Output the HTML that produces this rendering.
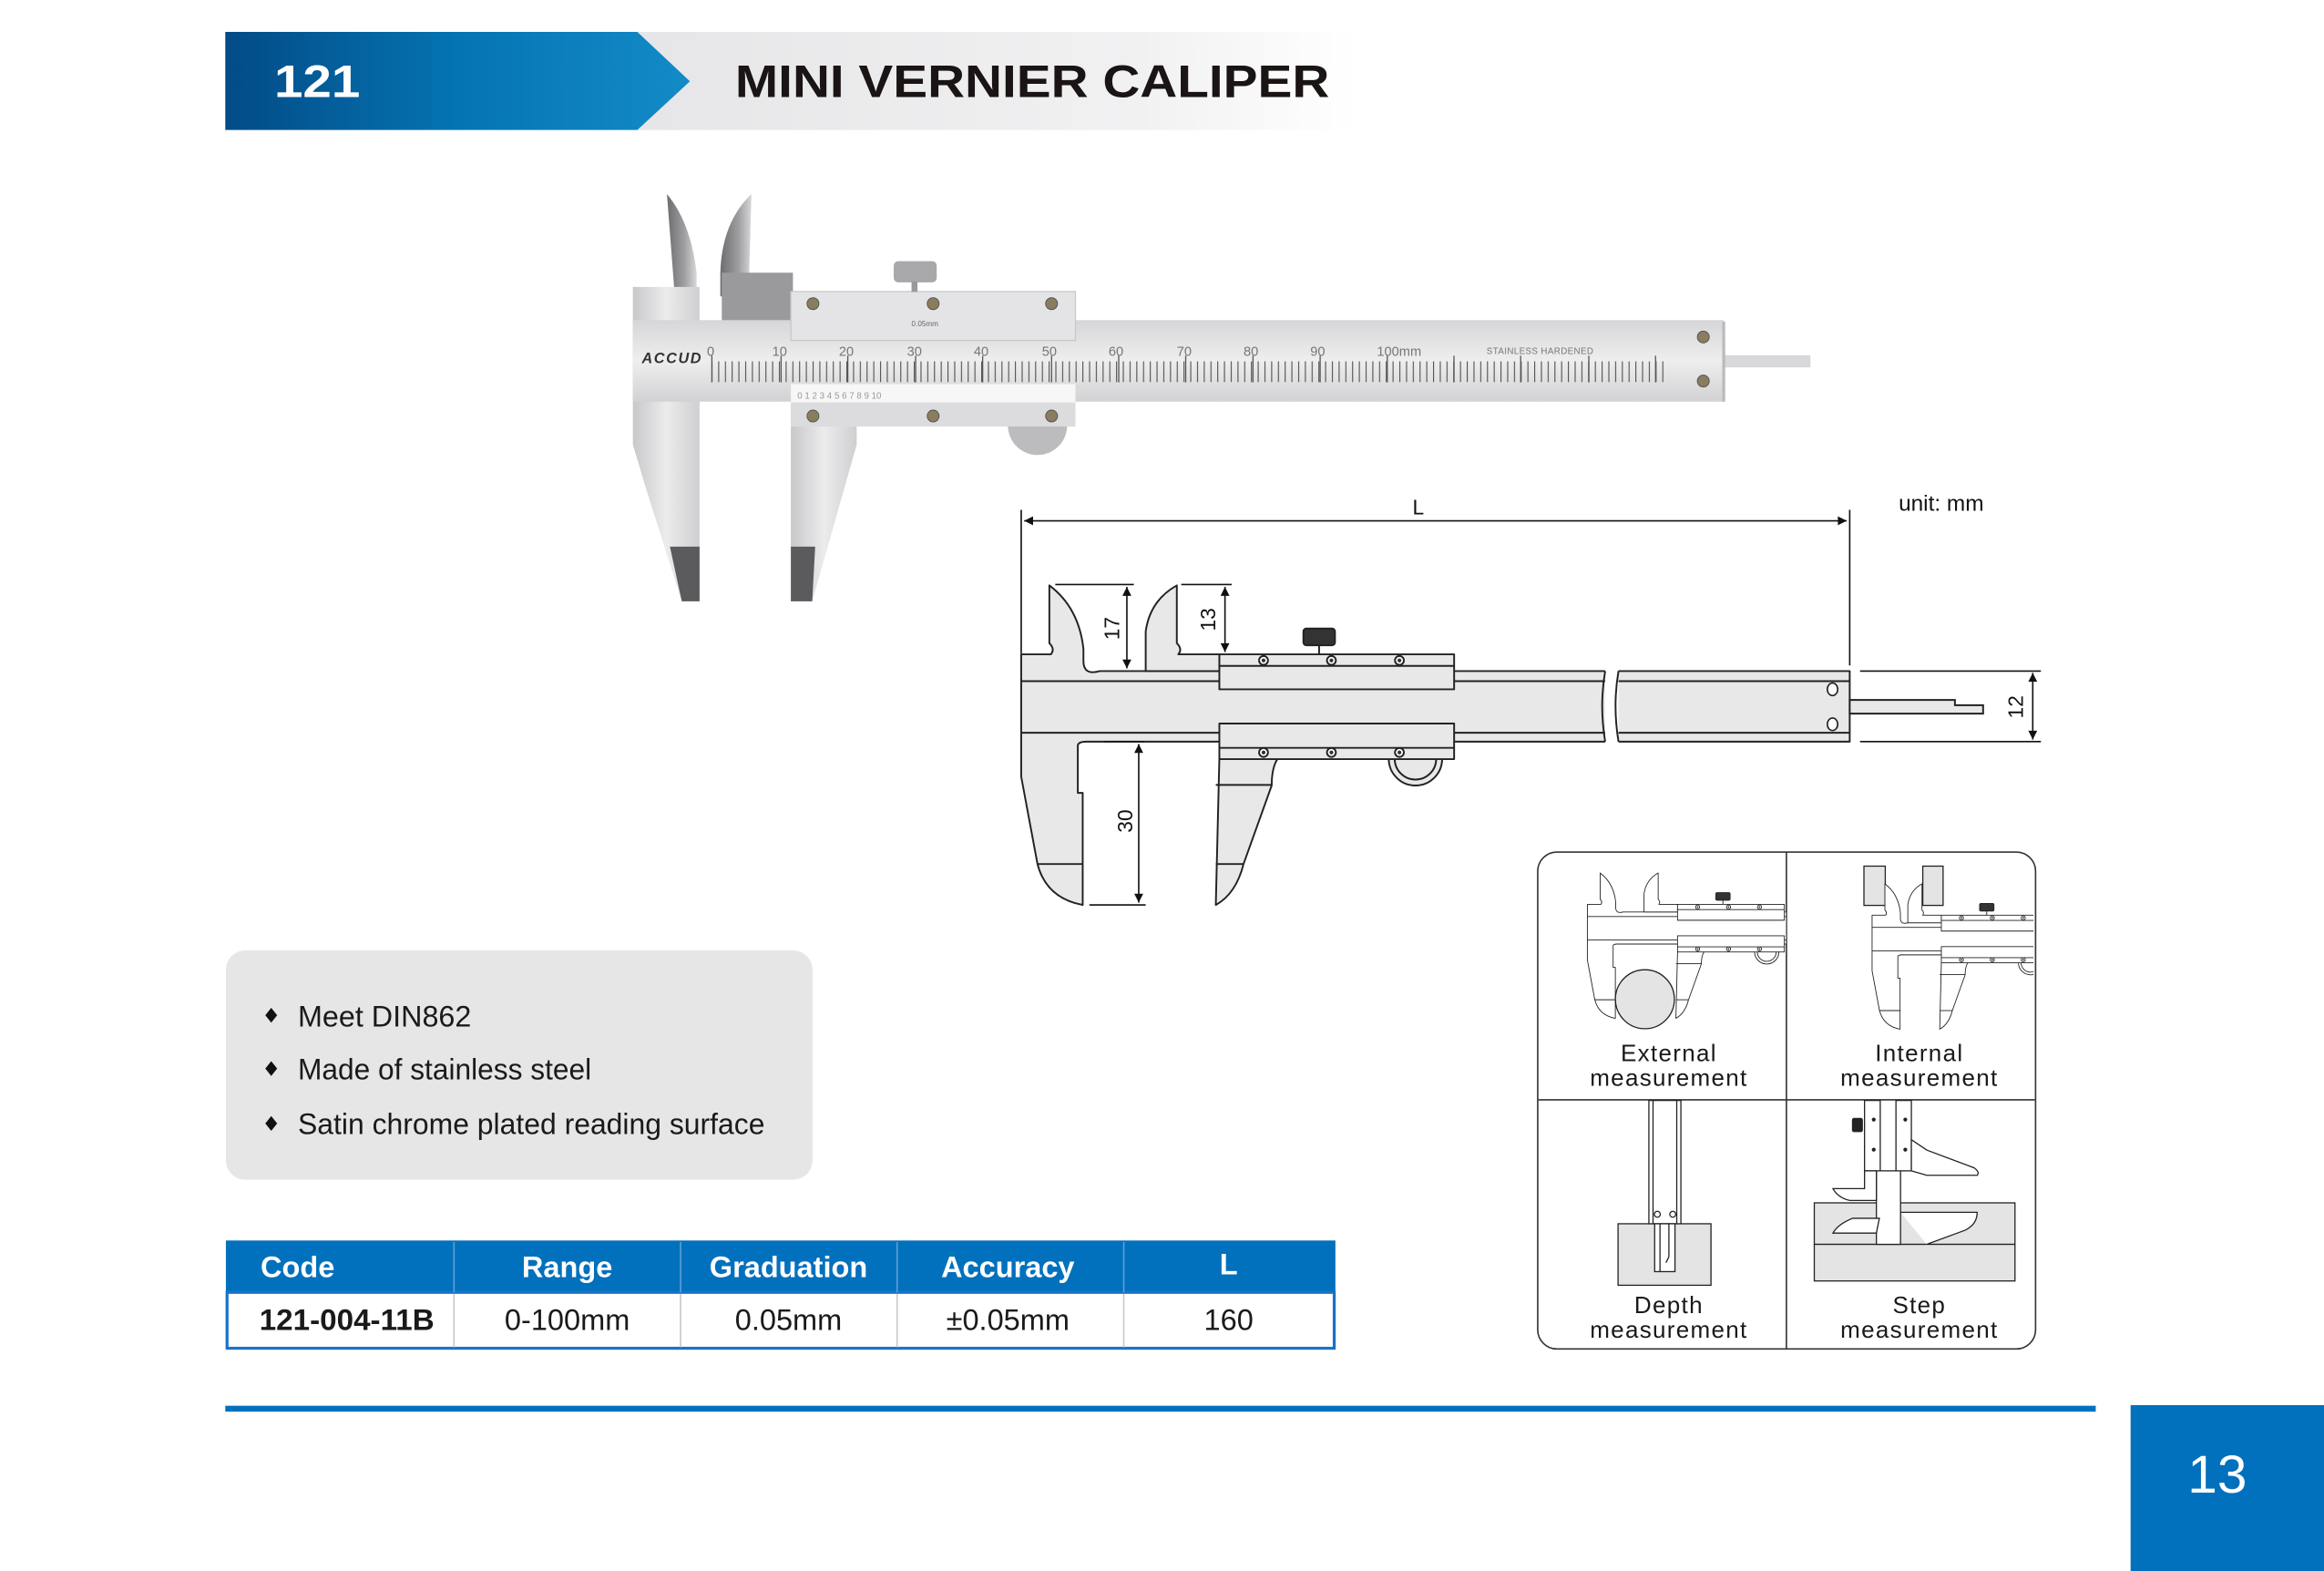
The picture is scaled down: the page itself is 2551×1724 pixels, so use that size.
<!DOCTYPE html>
<html><head><meta charset="utf-8"><style>
html,body{margin:0;padding:0;background:#fff;}
svg{display:block;}
text{font-family:"Liberation Sans",Arial,sans-serif;}
</style></head><body>
<svg width="2551" height="1724" viewBox="0 0 1568 1060" preserveAspectRatio="none" xmlns="http://www.w3.org/2000/svg">
<defs>
<linearGradient id="blu" x1="0" x2="1" y1="0" y2="0"><stop offset="0" stop-color="#024b86"/><stop offset="0.5" stop-color="#0574b2"/><stop offset="1" stop-color="#138bc7"/></linearGradient>
<linearGradient id="gry" x1="0" x2="1"><stop offset="0" stop-color="#e6e6e8"/><stop offset="0.7" stop-color="#f1f1f2"/><stop offset="1" stop-color="#ffffff"/></linearGradient>
<linearGradient id="steel" x1="0" x2="0" y1="0" y2="1"><stop offset="0" stop-color="#d6d6d8"/><stop offset="0.5" stop-color="#eeeeef"/><stop offset="1" stop-color="#d2d2d4"/></linearGradient>
<linearGradient id="steelv" x1="0" x2="1"><stop offset="0" stop-color="#c8c8ca"/><stop offset="0.5" stop-color="#ececed"/><stop offset="1" stop-color="#cfcfd1"/></linearGradient>
<linearGradient id="blade" x1="0" x2="1"><stop offset="0" stop-color="#6d6d70"/><stop offset="0.6" stop-color="#a0a0a3"/><stop offset="1" stop-color="#d8d8da"/></linearGradient>
<pattern id="t1" x="480" y="0" width="4.55" height="20" patternUnits="userSpaceOnUse"><rect x="0" y="0" width="0.7" height="20" fill="#555"/></pattern>
<marker id="ar" viewBox="0 0 10 10" refX="10" refY="5" markerWidth="14" markerHeight="6" markerUnits="userSpaceOnUse" orient="auto-start-reverse"><path d="M0,0 L10,5 L0,10 Z" fill="#111"/></marker>
<g id="calF" stroke="#222" stroke-width="1.2" stroke-linejoin="round">
  <path d="M708,395 L708,434 Q712,438 709,441.5 L689,441.5 L689,524 L700,583 Q706,606 730.5,610.6 L730.5,535 L727.2,535 L727.2,503 Q727.5,500.4 733,500.4 L1248,500.4 L1248,452.8 L742,452.8 Q731,456 731,446 L731,438 Q728,410 708,395 Z"/>
  <line x1="689" y1="459.6" x2="1248" y2="459.6"/>
  <line x1="689" y1="494.4" x2="1248" y2="494.4"/>
  <line x1="700" y1="583" x2="730.5" y2="583"/>
</g>
<g id="calM" stroke="#222" stroke-width="1.2" stroke-linejoin="round">
  <path d="M794,395 L794,434 Q798,438 795,441.5 L822.7,441.5 L822.7,452.8 L773,452.8 L773,426 Q776,405 794,395 Z"/>
  <path d="M822.7,512 L862,512 Q858,518 858,530 L839,583 Q834,603 820.3,610.6 Z"/>
  <circle cx="955" cy="512" r="18"/>
  <circle cx="955" cy="512" r="14" fill="none"/>
  <rect x="822.7" y="441.5" width="158.4" height="23.6"/>
  <rect x="822.7" y="488.2" width="158.4" height="24"/>
  <line x1="822.7" y1="449.3" x2="981" y2="449.3"/>
  <line x1="822.7" y1="504.6" x2="981" y2="504.6"/>
  <line x1="820.3" y1="529.6" x2="858" y2="529.6"/><line x1="820.3" y1="583" x2="839" y2="583"/>
  <g fill="#fff"><circle cx="852.5" cy="445.6" r="3"/><circle cx="898.3" cy="445.6" r="3"/><circle cx="944.2" cy="445.6" r="3"/><circle cx="852.5" cy="507.7" r="3"/><circle cx="898.3" cy="507.7" r="3"/><circle cx="944.2" cy="507.7" r="3"/></g>
  <g fill="#333" stroke="none"><circle cx="852.5" cy="445.6" r="1.3"/><circle cx="898.3" cy="445.6" r="1.3"/><circle cx="944.2" cy="445.6" r="1.3"/><circle cx="852.5" cy="507.7" r="1.3"/><circle cx="898.3" cy="507.7" r="1.3"/><circle cx="944.2" cy="507.7" r="1.3"/></g>
  <line x1="890" y1="435" x2="890" y2="441.5"/>
  <rect x="879.4" y="424.1" width="21.3" height="11.3" rx="2" fill="#333"/>
</g>
<clipPath id="c1"><rect x="1038" y="576" width="167" height="166"/></clipPath>
<clipPath id="c2"><rect x="1206" y="576" width="166" height="166"/></clipPath>
</defs>

<!-- Header -->
<rect x="430" y="21.5" width="485" height="66.2" fill="url(#gry)"/>
<path d="M152,21.5 L430,21.5 L465.5,54.9 L430,87.7 L152,87.7 Z" fill="url(#blu)"/>
<text x="185" y="65.6" font-size="31" font-weight="bold" fill="#fff" textLength="58" lengthAdjust="spacingAndGlyphs">121</text>
<text x="496" y="65.6" font-size="31" font-weight="bold" fill="#1a1414" textLength="401" lengthAdjust="spacingAndGlyphs">MINI VERNIER CALIPER</text>

<!-- Photo caliper -->
<g>
  <path d="M450,131 Q466,150 470,184 L470,196 L455,196 Z" fill="url(#blade)"/>
  <path d="M507,131 Q487,150 486,184 L486,200 L505,200 Z" fill="url(#blade)"/>
  <rect x="487" y="184" width="48" height="34" fill="#9a9a9d"/>
  <path d="M427,193.6 L472,193.6 L472,270 L427,270 Z" fill="url(#steelv)"/>
  <path d="M427,270 L472,270 L472,405.7 L460,405.7 L436,330 L427,300 Z" fill="url(#steelv)"/>
  <path d="M452,368.8 L472,368.8 L472,405.7 L460,405.7 Z" fill="#5b5b5e"/>
  <rect x="427" y="216" width="736" height="55" fill="url(#steel)"/>
  <rect x="1162" y="239.7" width="59.5" height="8.2" fill="#d8d8da"/>
  <rect x="1162" y="217" width="2" height="54" fill="#bbb"/>
  <rect x="480" y="243.8" width="645" height="14" fill="url(#t1)"/>
  <g stroke="#555" stroke-width="0.8">
    <line x1="480.3" y1="240" x2="480.3" y2="258"/><line x1="527" y1="240" x2="527" y2="258"/><line x1="572" y1="240" x2="572" y2="258"/><line x1="617.8" y1="240" x2="617.8" y2="258"/><line x1="663" y1="240" x2="663" y2="258"/><line x1="709.5" y1="240" x2="709.5" y2="258"/><line x1="754.8" y1="240" x2="754.8" y2="258"/><line x1="800" y1="240" x2="800" y2="258"/><line x1="845.4" y1="240" x2="845.4" y2="258"/><line x1="890.7" y1="240" x2="890.7" y2="258"/><line x1="936" y1="240" x2="936" y2="258"/><line x1="981" y1="240" x2="981" y2="258"/><line x1="1026" y1="240" x2="1026" y2="258"/><line x1="1072" y1="240" x2="1072" y2="258"/><line x1="1117" y1="240" x2="1117" y2="258"/>
  </g>
  <g font-size="9" fill="#777">
    <text x="477" y="240">0</text><text x="521" y="240">10</text><text x="566" y="240">20</text><text x="612" y="240">30</text><text x="657" y="240">40</text><text x="703" y="240">50</text><text x="748" y="240">60</text><text x="794" y="240">70</text><text x="839" y="240">80</text><text x="884" y="240">90</text><text x="929" y="240">100mm</text>
    <text x="1003" y="239" font-size="6" textLength="72">STAINLESS HARDENED</text>
  </g>
  <text x="433" y="245" font-size="10" font-weight="bold" font-style="italic" fill="#333" textLength="40">ACCUD</text>
  <path d="M533.6,271.5 L578,271.5 L578,300 L548,405.7 L533.6,405.7 Z" fill="url(#steelv)"/>
  <path d="M533.6,368.8 L550,368.8 L548,405.7 L533.6,405.7 Z" fill="#5b5b5e"/>
  <path d="M680,287 A20,20 0 0 0 720,287 Z" fill="#bcbcbe"/>
  <rect x="533.6" y="196.7" width="192" height="33" fill="#e4e4e6" stroke="#c8c8ca" stroke-width="0.8"/>
  <rect x="533.6" y="259.2" width="192" height="12.5" fill="#f7f7f7"/>
  <rect x="533.6" y="271.5" width="192" height="16.3" fill="#dcdcde"/>
  <g font-size="6" fill="#999"><text x="538" y="269">0 1 2 3 4 5 6 7 8 9 10</text></g>
  <text x="615" y="220" font-size="5" fill="#666">0.05mm</text>
  <rect x="603" y="176.2" width="29" height="14.3" rx="3" fill="#a8a8ab"/>
  <rect x="615" y="190" width="4" height="7" fill="#999"/>
  <g fill="#8a7d5e" stroke="#555" stroke-width="0.6">
    <circle cx="548.5" cy="204.9" r="4"/><circle cx="629.6" cy="204.9" r="4"/><circle cx="709.5" cy="204.9" r="4"/>
    <circle cx="548.5" cy="280.7" r="4"/><circle cx="629.6" cy="280.7" r="4"/><circle cx="709.5" cy="280.7" r="4"/>
    <circle cx="1149.2" cy="227.4" r="4"/><circle cx="1149.2" cy="257.1" r="4"/>
  </g>
</g>

<!-- Dimensioned drawing -->
<g stroke="#111" stroke-width="1">
  <line x1="689" y1="344" x2="689" y2="441"/>
  <line x1="1248" y1="344" x2="1248" y2="449"/>
  <line x1="691" y1="351.4" x2="1246" y2="351.4" marker-start="url(#ar)" marker-end="url(#ar)"/>
</g>
<text x="953" y="347" font-size="14" fill="#111">L</text>
<text x="1281" y="344.6" font-size="15" fill="#111">unit: mm</text>
<use href="#calF" fill="#e8e8e8"/>
<use href="#calM" fill="#e8e8e8"/>
<rect x="1083" y="451" width="9" height="51" fill="#fff"/>
<path d="M1083,452.8 Q1079,476 1083,500.4 M1092,452.8 Q1088,476 1092,500.4" stroke="#222" stroke-width="1.2" fill="none"/>
<ellipse cx="1236.4" cy="465.1" rx="3.5" ry="4.2" fill="#fff" stroke="#222" stroke-width="1"/>
<ellipse cx="1236.4" cy="488.7" rx="3.5" ry="4.2" fill="#fff" stroke="#222" stroke-width="1"/>
<path d="M1248,472.3 L1319,472.3 L1319,475.8 L1338,475.8 L1338,481.5 L1248,481.5 Z" fill="#e8e8e8" stroke="#222" stroke-width="1.2"/>
<g stroke="#111" stroke-width="1">
  <line x1="712" y1="394.4" x2="765" y2="394.4"/>
  <line x1="760.3" y1="396" x2="760.3" y2="451" marker-start="url(#ar)" marker-end="url(#ar)"/>
  <line x1="797" y1="394.4" x2="831" y2="394.4"/>
  <line x1="826.5" y1="396" x2="826.5" y2="440" marker-start="url(#ar)" marker-end="url(#ar)"/>
  <line x1="735" y1="610.6" x2="773" y2="610.6"/>
  <line x1="745" y1="500.4" x2="772" y2="500.4"/>
  <line x1="768.3" y1="502" x2="768.3" y2="609" marker-start="url(#ar)" marker-end="url(#ar)"/>
  <line x1="1255" y1="452.8" x2="1377" y2="452.8"/>
  <line x1="1255" y1="500.4" x2="1377" y2="500.4"/>
  <line x1="1371.5" y1="454" x2="1371.5" y2="499" marker-start="url(#ar)" marker-end="url(#ar)"/>
</g>
<g font-size="14" fill="#111">
  <text transform="translate(755,424) rotate(-90)" text-anchor="middle">17</text>
  <text transform="translate(820,418) rotate(-90)" text-anchor="middle">13</text>
  <text transform="translate(764,554) rotate(-90)" text-anchor="middle">30</text>
  <text transform="translate(1365,477) rotate(-90)" text-anchor="middle">12</text>
</g>

<!-- Measurement box -->
<rect x="1037.5" y="574.9" width="335.9" height="335.3" rx="13" fill="#fff" stroke="#333" stroke-width="1"/>
<line x1="1205.3" y1="575" x2="1205.3" y2="910" stroke="#333" stroke-width="1"/>
<line x1="1038" y1="742.1" x2="1373" y2="742.1" stroke="#333" stroke-width="1"/>
<g clip-path="url(#c1)">
  <g transform="translate(757.5,409.3) scale(0.455)"><use href="#calF" fill="#fff"/><use href="#calM" fill="#fff"/></g>
  <circle cx="1109.8" cy="674.2" r="19.9" fill="#e4e4e4" stroke="#222" stroke-width="0.8"/>
</g>
<g clip-path="url(#c2)">
  <rect x="1257.6" y="584.4" width="14.4" height="26.5" fill="#e4e4e4" stroke="#222" stroke-width="0.8"/>
  <rect x="1297.3" y="584.4" width="13.7" height="26.5" fill="#e4e4e4" stroke="#222" stroke-width="0.8"/>
  <g transform="translate(949.6,416.6) scale(0.455)"><use href="#calF" fill="#fff"/><use href="#calM" fill="#fff" transform="translate(-31,0)"/></g>
</g>
<!-- Depth icon -->
<g stroke="#222" stroke-width="0.8">
  <rect x="1091.7" y="825.7" width="62.7" height="41.5" fill="#e4e4e4"/>
  <rect x="1112.5" y="742.5" width="21.6" height="83.2" fill="#fff"/>
  <line x1="1115.3" y1="742.5" x2="1115.3" y2="825.7"/><line x1="1131.3" y1="742.5" x2="1131.3" y2="825.7"/>
  <circle cx="1118.2" cy="819.3" r="2" fill="#fff"/><circle cx="1128.6" cy="819.3" r="2" fill="#fff"/>
  <rect x="1116.4" y="825.7" width="13.7" height="32.3" fill="#fff"/>
  <line x1="1120" y1="826" x2="1120" y2="858"/><line x1="1126" y1="826" x2="1126" y2="848"/><line x1="1126" y1="848" x2="1124" y2="852"/>
</g>
<!-- Step icon -->
<g stroke="#222" stroke-width="0.8">
  <rect x="1224.1" y="811.6" width="135.4" height="28" fill="#e4e4e4"/>
  <rect x="1224.1" y="839.6" width="135.4" height="24.7" fill="#e4e4e4"/>
  <rect x="1266" y="790" width="16.3" height="49.6" fill="#fff"/>
  <rect x="1258" y="742.5" width="10.6" height="47.5" fill="#fff"/>
  <rect x="1279.2" y="742.5" width="10.4" height="47.5" fill="#fff"/>
  <path d="M1289.6,769 L1300,776 L1332,788 Q1336,791 1334,793 L1300,793 L1289.6,790 Z" fill="#fff"/>
  <path d="M1258,790 L1258,802 L1236.7,802 Q1240,808 1248,810 L1266,810 L1266,790 Z" fill="#fff"/>
  <path d="M1268,822 L1250,822 Q1240,826 1236.7,832 L1266,832 Z" fill="#fff"/>
  <path d="M1282.3,818 L1334,818 Q1334,826 1326,830 L1300,839.6" fill="#fff"/>
  <rect x="1249.9" y="754.7" width="6.6" height="8.8" rx="1" fill="#222"/>
  <g fill="#222" stroke="none"><circle cx="1264.2" cy="755.4" r="1.3"/><circle cx="1264.2" cy="775.7" r="1.3"/><circle cx="1285.5" cy="755.4" r="1.3"/><circle cx="1285.5" cy="775.7" r="1.3"/></g>
</g>
<g font-size="16" fill="#1a1a1a" text-anchor="middle" letter-spacing="0.8">
  <text x="1126" y="716">External</text><text x="1126" y="732.6">measurement</text>
  <text x="1295" y="716">Internal</text><text x="1295" y="732.6">measurement</text>
  <text x="1126" y="886">Depth</text><text x="1126" y="902.5">measurement</text>
  <text x="1295" y="886">Step</text><text x="1295" y="902.5">measurement</text>
</g>

<!-- Feature panel -->
<rect x="152.4" y="641.3" width="395.8" height="154.7" rx="13" fill="#e6e6e7"/>
<g fill="#111">
  <path d="M183,680 L187,685 L183,690 L179,685 Z"/>
  <path d="M183,716 L187,721 L183,726 L179,721 Z"/>
  <path d="M183,753 L187,758 L183,763 L179,758 Z"/>
</g>
<g font-size="20" fill="#1a1a1a">
  <text x="201" y="692.5" textLength="117" lengthAdjust="spacingAndGlyphs">Meet DIN862</text>
  <text x="201" y="728.4" textLength="198" lengthAdjust="spacingAndGlyphs">Made of stainless steel</text>
  <text x="201" y="765.3" textLength="315" lengthAdjust="spacingAndGlyphs">Satin chrome plated reading surface</text>
</g>

<!-- Table -->
<rect x="152.4" y="837" width="748.6" height="35" fill="#0271bd"/>
<rect x="153.2" y="872" width="747" height="37.7" fill="#fff" stroke="#1a73c8" stroke-width="2"/>
<g stroke="#5c9fd6" stroke-width="1"><line x1="306.3" y1="838" x2="306.3" y2="872"/><line x1="459.2" y1="838" x2="459.2" y2="872"/><line x1="605.3" y1="838" x2="605.3" y2="872"/><line x1="758.2" y1="838" x2="758.2" y2="872"/></g>
<g stroke="#c8c8c8" stroke-width="1"><line x1="306.3" y1="873" x2="306.3" y2="909"/><line x1="459.2" y1="873" x2="459.2" y2="909"/><line x1="605.3" y1="873" x2="605.3" y2="909"/><line x1="758.2" y1="873" x2="758.2" y2="909"/></g>
<g font-size="20" font-weight="bold" fill="#fff">
  <text x="175.8" y="861.6">Code</text>
  <text x="382.7" y="861.6" text-anchor="middle">Range</text>
  <text x="532" y="861.6" text-anchor="middle">Graduation</text>
  <text x="680" y="861.6" text-anchor="middle">Accuracy</text>
  <text x="829" y="860" text-anchor="middle">L</text>
</g>
<g font-size="20" fill="#1a1a1a">
  <text x="175" y="897.4" font-weight="bold" textLength="118" lengthAdjust="spacingAndGlyphs">121-004-11B</text>
  <text x="382.7" y="897.4" text-anchor="middle">0-100mm</text>
  <text x="532" y="897.4" text-anchor="middle">0.05mm</text>
  <text x="680" y="897.4" text-anchor="middle">±0.05mm</text>
  <text x="829" y="897.4" text-anchor="middle">160</text>
</g>

<!-- Footer -->
<rect x="152" y="948.5" width="1262" height="4" fill="#0271bd"/>
<rect x="1437.5" y="948.1" width="131" height="112" fill="#0271bd"/>
<text x="1496" y="1007" font-size="36" fill="#fff" text-anchor="middle">13</text>
</svg>
</body></html>
